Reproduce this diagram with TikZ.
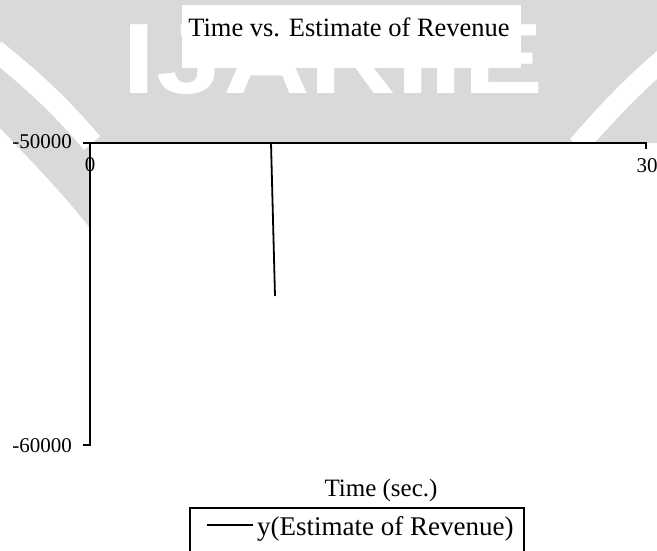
\documentclass[tikz,border=0pt]{standalone}
\usepackage{fontspec}
\setmainfont{Liberation Serif}
\newfontfamily\wmfont{Liberation Sans}
\usepackage{graphicx}
\definecolor{wmgray}{RGB}{217,217,217}
\begin{document}
\begin{tikzpicture}[x=1pt,y=-1pt,
  axisline/.style={line width=2pt, line cap=rect},
  dataline/.style={line width=1.8pt},
  ticklabel/.style={inner sep=0pt, font=\fontsize{21}{21}\selectfont},
  wmstripe/.style={white, line width=21pt}]
\useasboundingbox (0,0) rectangle (657,550);
\clip (0,0) rectangle (657,550);
\fill[white] (0,0) rectangle (657,550);
% watermark
\fill[wmgray] (0,0) -- (657,0) -- (657,143) -- (90,143) -- (90,228)
  .. controls (60,190) and (30,160) .. (0,128) -- cycle;
\draw[wmstripe] (-5,50) .. controls (30,78) and (60,105) .. (92,143);
\draw[wmstripe] (578,146) .. controls (605,115) and (630,88) .. (665,58);
\node[white, inner sep=0pt, anchor=base, font=\wmfont\bfseries\fontsize{100}{100}\selectfont] (wm) at (333,93) {\scalebox{1.2}[1]{IJARIIE}};
% title
\fill[white] (182,5) rectangle (521,68);
\node[inner sep=0pt, anchor=base, font=\fontsize{26.5}{26.5}\selectfont] (title) at (349,36) {Time vs. Estimate of Revenue};
% axes
\coordinate (o) at (90,143);
\coordinate (xe) at (646,143);
\coordinate (yb) at (90,445);
\coordinate (ytl) at (84,143);
\draw[axisline] (ytl) -- (xe) -- ++(0,5);
\draw[axisline] (o) -- (yb) -- ++(-6,0);
% data
\coordinate (d1) at (271,143);
\coordinate (d2) at (275,296);
\draw[dataline] (d1) -- (d2);
% tick labels
\node[ticklabel, anchor=east] (ym) at (72,142) {-50000};
\node[ticklabel, anchor=east] (yl) at (72,446) {-60000};
\node[ticklabel] (x0) at (90,165) {0};
\node[ticklabel] (x30) at (647,166) {30};
\node[inner sep=0pt, anchor=base, font=\fontsize{25}{25}\selectfont] (xlab) at (381,496) {Time (sec.)};
% legend
\draw[line width=2pt] (190,560) -- (190,508) -- (524,508) -- (524,560);
\coordinate (l1) at (207,525);
\coordinate (l2) at (253,525);
\draw[dataline] (l1) -- (l2);
\node[inner sep=0pt, anchor=base west, font=\fontsize{27}{27}\selectfont] (leg) at (257,535) {y(Estimate of Revenue)};
\end{tikzpicture}
\end{document}
